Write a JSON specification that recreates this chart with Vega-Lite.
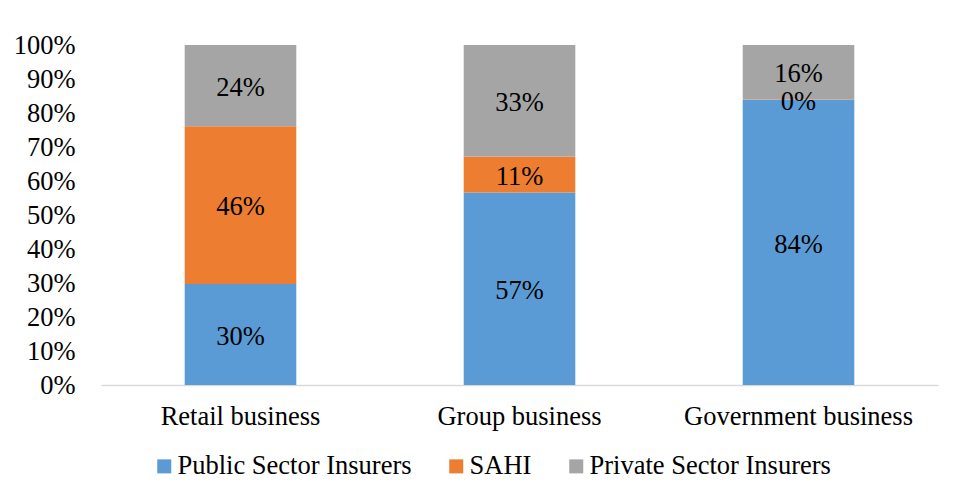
{
  "$schema": "https://vega.github.io/schema/vega-lite/v6.json",
  "width": 837,
  "height": 340,
  "autosize": {"type": "none"},
  "padding": {"left": 101, "top": 45, "right": 20, "bottom": 113},
  "background": "white",
  "config": {
    "view": {"stroke": null},
    "font": "Liberation Serif",
    "axisY": {
      "labelOverlap": false,
      "grid": false,
      "domain": false,
      "ticks": false,
      "labelFont": "Liberation Serif",
      "labelFontSize": 26.5,
      "labelColor": "#000000",
      "labelPadding": 26
    }
  },
  "data": {
    "values": [
      {"business": "Retail business", "insurer": "Public Sector Insurers", "share": 0.297, "rank": 1},
      {"business": "Retail business", "insurer": "SAHI", "share": 0.464, "rank": 2},
      {"business": "Retail business", "insurer": "Private Sector Insurers", "share": 0.239, "rank": 3},
      {"business": "Group business", "insurer": "Public Sector Insurers", "share": 0.566, "rank": 1},
      {"business": "Group business", "insurer": "SAHI", "share": 0.106, "rank": 2},
      {"business": "Group business", "insurer": "Private Sector Insurers", "share": 0.328, "rank": 3},
      {"business": "Government business", "insurer": "Public Sector Insurers", "share": 0.838, "rank": 1},
      {"business": "Government business", "insurer": "SAHI", "share": 0.002, "rank": 2},
      {"business": "Government business", "insurer": "Private Sector Insurers", "share": 0.16, "rank": 3}
    ]
  },
  "transform": [
    {"stack": "share", "groupby": ["business"], "sort": [{"field": "rank", "order": "ascending"}], "as": ["s0", "s1"]},
    {"calculate": "(datum.s0 + datum.s1) / 2", "as": "mid"}
  ],
  "encoding": {
    "x": {
      "field": "business",
      "type": "nominal",
      "sort": ["Retail business", "Group business", "Government business"],
      "scale": {"paddingInner": 0.6, "paddingOuter": 0.3},
      "axis": {
        "title": null,
        "labelAngle": 0,
        "labelFont": "Liberation Serif",
        "labelFontSize": 26.5,
        "labelColor": "#000000",
        "labelPadding": 18,
        "labelLimit": 400,
        "ticks": false,
        "domainColor": "#D9D9D9",
        "domainWidth": 1.5
      }
    }
  },
  "layer": [
    {
      "mark": {"type": "bar"},
      "encoding": {
        "y": {
          "field": "s0",
          "type": "quantitative",
          "scale": {"domain": [0, 1]},
          "axis": {
            "title": null,
            "format": ".0%",
            "values": [0, 0.1, 0.2, 0.3, 0.4, 0.5, 0.6, 0.7, 0.8, 0.9, 1],
            "labelOverlap": false
          }
        },
        "y2": {"field": "s1"},
        "color": {
          "field": "insurer",
          "type": "nominal",
          "scale": {
            "domain": ["Public Sector Insurers", "SAHI", "Private Sector Insurers"],
            "range": ["#5B9BD5", "#ED7D31", "#A5A5A5"]
          },
          "legend": {
            "title": null,
            "orient": "none",
            "direction": "horizontal",
            "columns": 3,
            "legendX": 50,
            "legendY": 408,
            "symbolType": "square",
            "symbolSize": 196,
            "symbolStrokeWidth": 0,
            "labelFont": "Liberation Serif",
            "labelFontSize": 26.5,
            "labelColor": "#000000",
            "labelOffset": 0,
            "columnPadding": 31,
            "labelLimit": 400
          }
        }
      }
    },
    {
      "mark": {"type": "text", "font": "Liberation Serif", "fontSize": 26.5, "color": "#000000", "dy": 2},
      "encoding": {
        "y": {
          "field": "mid",
          "type": "quantitative",
          "axis": {
            "title": null,
            "format": ".0%",
            "values": [0, 0.1, 0.2, 0.3, 0.4, 0.5, 0.6, 0.7, 0.8, 0.9, 1],
            "labelOverlap": false
          }
        },
        "text": {"field": "share", "type": "quantitative", "format": ".0%"}
      }
    }
  ]
}
